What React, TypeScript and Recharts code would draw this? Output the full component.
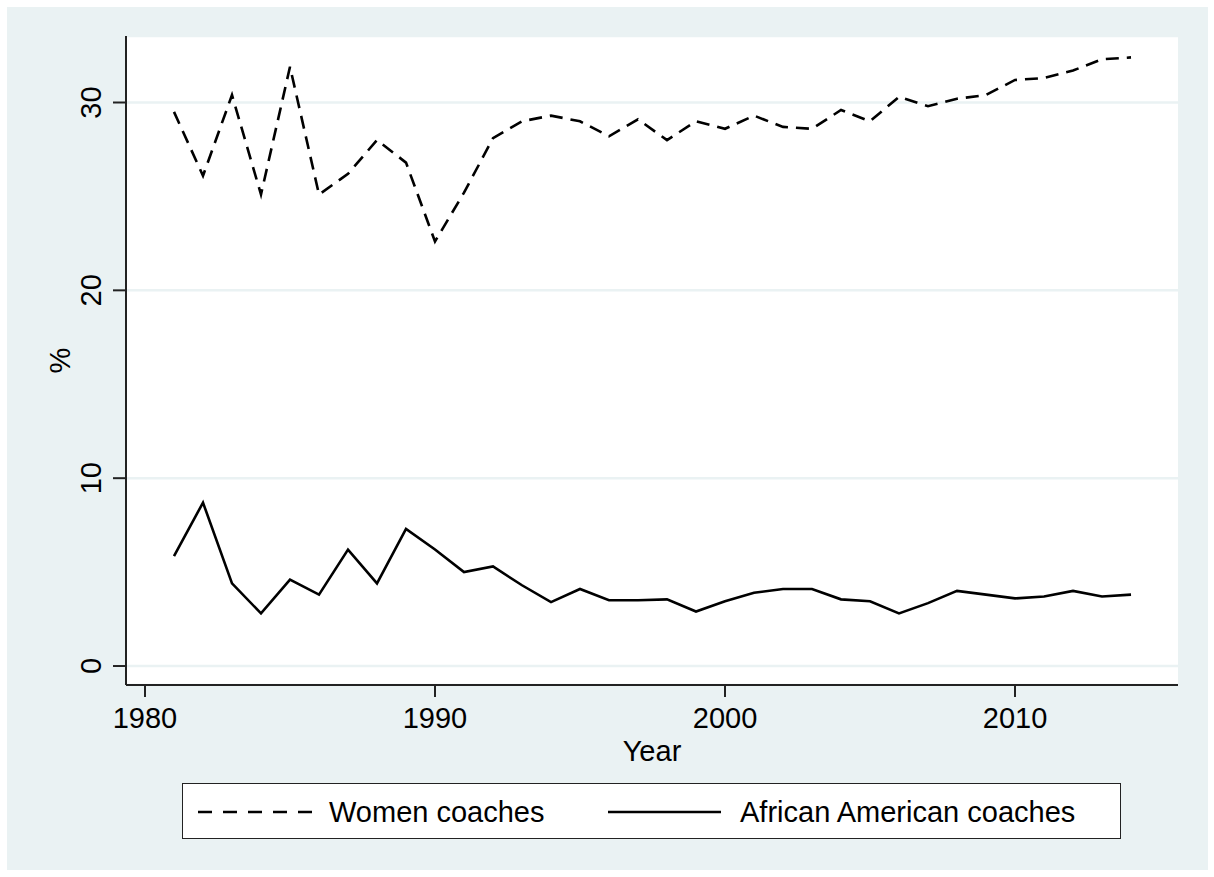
import { LineChart, Line, XAxis, YAxis, CartesianGrid } from 'recharts'

const years = [
  1981, 1982, 1983, 1984, 1985, 1986, 1987, 1988, 1989, 1990, 1991, 1992, 1993, 1994, 1995, 1996, 1997,
  1998, 1999, 2000, 2001, 2002, 2003, 2004, 2005, 2006, 2007, 2008, 2009, 2010, 2011, 2012, 2013, 2014,
]

const womenCoaches = [
  29.5, 26.1, 30.4, 25.1, 31.9, 25.1, 26.2, 28.0, 26.8, 22.6, 25.2, 28.1, 29.0, 29.3, 29.0, 28.2, 29.1,
  28.0, 29.0, 28.6, 29.3, 28.7, 28.6, 29.6, 29.0, 30.3, 29.8, 30.2, 30.4, 31.2, 31.3, 31.7, 32.3, 32.4,
]

const africanAmericanCoaches = [
  5.85, 8.7, 4.4, 2.8, 4.6, 3.8, 6.2, 4.4, 7.3, 6.2, 5.0, 5.3, 4.3, 3.4, 4.1, 3.5, 3.5,
  3.55, 2.9, 3.45, 3.9, 4.1, 4.1, 3.55, 3.45, 2.8, 3.35, 4.0, 3.8, 3.6, 3.7, 4.0, 3.7, 3.8,
]

const xTicks = [1980, 1990, 2000, 2010]
const yTicks = [0, 10, 20, 30]
const seriesNames = ['Women coaches', 'African American coaches']

const data = years.map((year, i) => ({
  year,
  women: womenCoaches[i],
  african: africanAmericanCoaches[i],
}))

const FONT = '"Liberation Sans", Arial, Helvetica, sans-serif'
const BG = '#eaf2f3'
const FS = 29

const YTick = ({ x, y, payload }: any) => (
  <text
    x={x}
    y={y}
    transform={`rotate(-90 ${x} ${y})`}
    textAnchor="middle"
    fontSize={FS}
    fontFamily={FONT}
    fill="#000"
  >
    {payload.value}
  </text>
)

const YLabel = ({ viewBox }: any) => {
  const cx = 70
  const cy = viewBox.y + viewBox.height / 2
  return (
    <text
      x={cx}
      y={cy}
      transform={`rotate(-90 ${cx} ${cy})`}
      textAnchor="middle"
      fontSize={FS}
      fontFamily={FONT}
      fill="#000"
    >
      %
    </text>
  )
}

export default function App() {
  return (
    <div style={{ position: 'absolute', left: 0, top: 0, width: 1214, height: 877, background: '#fff' }}>
      <div style={{ position: 'absolute', left: 7, top: 7, width: 1201, height: 863, background: BG }} />
      <div style={{ position: 'absolute', left: 0, top: 0 }}>
        <LineChart
          width={1214}
          height={877}
          data={data}
          margin={{ top: 36, right: 36, left: 46, bottom: 116 }}
        >
          <CartesianGrid vertical={false} fill="#fff" stroke={BG} strokeWidth={2.5} />
          <XAxis
            dataKey="year"
            type="number"
            domain={[1979.345, 2015.62]}
            ticks={xTicks}
            allowDataOverflow
            height={76}
            tickSize={12}
            tickMargin={10}
            stroke="#222"
            strokeWidth={2}
            tick={{ fontSize: FS, fontFamily: FONT, fill: '#000' }}
            tickLine={{ stroke: '#222', strokeWidth: 2 }}
            label={{ value: 'Year', position: 'insideBottom', offset: 0, fontSize: FS, fontFamily: FONT, fill: '#000' }}
          />
          <YAxis
            type="number"
            domain={[-1.01, 33.54]}
            ticks={yTicks}
            allowDataOverflow
            width={80}
            tickSize={13}
            tickMargin={12}
            stroke="#222"
            strokeWidth={2}
            tick={<YTick />}
            tickLine={{ stroke: '#222', strokeWidth: 2 }}
            label={<YLabel />}
          />
          <Line
            dataKey="women"
            name={seriesNames[0]}
            stroke="#000"
            strokeWidth={2.6}
            strokeDasharray="13 8"
            dot={false}
            activeDot={false}
            isAnimationActive={false}
          />
          <Line
            dataKey="african"
            name={seriesNames[1]}
            stroke="#000"
            strokeWidth={2.6}
            dot={false}
            activeDot={false}
            isAnimationActive={false}
          />
        </LineChart>
      </div>
      <div
        style={{
          position: 'absolute',
          left: 182,
          top: 783,
          width: 937,
          height: 54,
          background: '#fff',
          border: '1.5px solid #222',
        }}
      >
        <svg width={937} height={54} style={{ position: 'absolute', left: 0, top: 0 }}>
          <line x1={15} x2={131} y1={28} y2={28} stroke="#000" strokeWidth={2.6} strokeDasharray="14 11" />
          <line x1={425} x2={538} y1={28} y2={28} stroke="#000" strokeWidth={2.6} />
          <text x={146} y={38} fontSize={FS} fontFamily={FONT} fill="#000">
            {seriesNames[0]}
          </text>
          <text x={557} y={38} fontSize={FS} fontFamily={FONT} fill="#000">
            {seriesNames[1]}
          </text>
        </svg>
      </div>
    </div>
  )
}
